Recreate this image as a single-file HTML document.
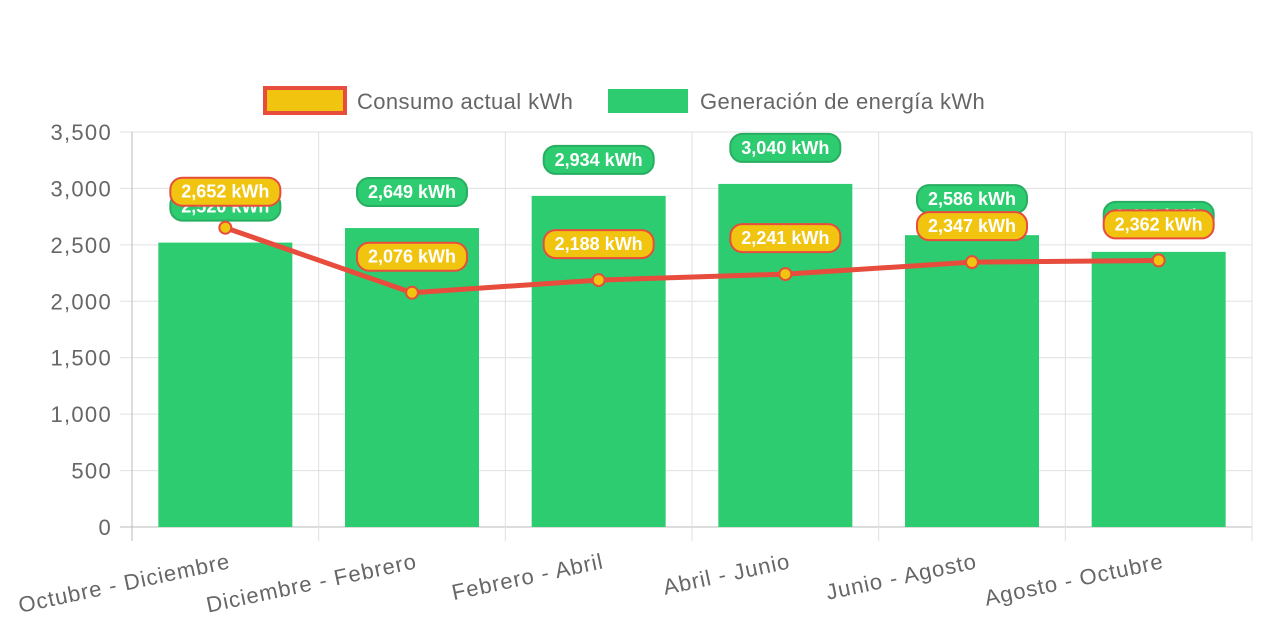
<!DOCTYPE html>
<html><head><meta charset="utf-8"><style>
body{margin:0;background:#fff;width:1262px;height:630px;overflow:hidden;font-family:"Liberation Sans",sans-serif}
</style></head><body>
<svg id="c" width="1262" height="630" xmlns="http://www.w3.org/2000/svg"></svg>
<script>
const categories=["Octubre - Diciembre","Diciembre - Febrero","Febrero - Abril","Abril - Junio","Junio - Agosto","Agosto - Octubre"];
const generation=[2520,2649,2934,3040,2586,2438];
const consumption=[2652,2076,2188,2241,2347,2362];
const yTicks=[0,500,1000,1500,2000,2500,3000,3500];
const svg=document.getElementById('c');const NS='http://www.w3.org/2000/svg';
const L=132,R=1252,T=132,B=527,YMAX=3500;
const step=(R-L)/categories.length;
const y=v=>B-(v/YMAX)*(B-T);
const xc=i=>L+step*(i+0.5);
function el(t,a,p){const e=document.createElementNS(NS,t);for(const k in a)e.setAttribute(k,a[k]);(p||svg).appendChild(e);return e;}
const fmt=v=>v.toLocaleString('en-US');
const grid=el('g',{});


yTicks.forEach(t=>{
  el('line',{x1:120,x2:R,y1:y(t),y2:y(t),stroke:t===0?'#bbb':'#e0e0e0','stroke-width':1},grid);
  const tx=el('text',{x:112,y:y(t)+8,'text-anchor':'end','font-size':22,'letter-spacing':1.3,fill:'#666'},grid);
  tx.textContent=fmt(t);
  
  
});
for(let i=0;i<=categories.length;i++){
  const x=L+step*i;
  el('line',{x1:x,x2:x,y1:T,y2:541,stroke:'#e0e0e0','stroke-width':1},grid);
}
el('line',{x1:L,x2:L,y1:T,y2:541,stroke:'#bbb'},grid);
generation.forEach((v,i)=>{
  const r=el('rect',{x:xc(i)-67,y:y(v),width:134,height:B-y(v),fill:'#2ecc71'});
  
  
});
categories.forEach((c,i)=>{
  const ax=xc(i)+6, ay=568;
  const t=el('text',{x:ax,y:ay,'text-anchor':'end','font-size':22,'letter-spacing':1,fill:'#666',transform:`rotate(-12 ${ax} ${ay})`});
  t.textContent=c;
  
  
});
function label(cx,cy,txt,fill,stroke,name){
  const g=el('g',{});
  
  
  el('rect',{x:cx-55,y:cy-14,width:110,height:28,rx:12,fill:fill,stroke:stroke,'stroke-width':2},g);
  const t=el('text',{x:cx,y:cy+6,'text-anchor':'middle','font-size':18,'font-weight':'bold',fill:'#fff'},g);
  t.textContent=txt;
}
generation.forEach((v,i)=>label(xc(i),y(v)-36,fmt(v)+' kWh','#2ecc71','#27ae60','generation-value-label'));
const pts=consumption.map((v,i)=>xc(i)+','+y(v)).join(' ');
const pl=el('polyline',{points:pts,fill:'none',stroke:'#e74c3c','stroke-width':5,'stroke-linejoin':'round'});


consumption.forEach((v,i)=>{
  const c=el('circle',{cx:xc(i),cy:y(v),r:6,fill:'#f1c40f',stroke:'#e74c3c','stroke-width':2});
  
  
});
consumption.forEach((v,i)=>label(xc(i),y(v)-36,fmt(v)+' kWh','#f1c40f','#e74c3c','consumption-value-label'));
const lg=el('g',{});


el('rect',{x:265,y:88,width:80,height:25,fill:'#f1c40f',stroke:'#e74c3c','stroke-width':4},lg);
let t1=el('text',{x:357,y:109,'font-size':22,'letter-spacing':0.4,fill:'#666'},lg);t1.textContent='Consumo actual kWh';


el('rect',{x:608,y:89,width:80,height:24,fill:'#2ecc71'},lg);
let t2=el('text',{x:700,y:109,'font-size':22,'letter-spacing':0.4,fill:'#666'},lg);t2.textContent='Generación de energía kWh';


</script>
</body></html>
